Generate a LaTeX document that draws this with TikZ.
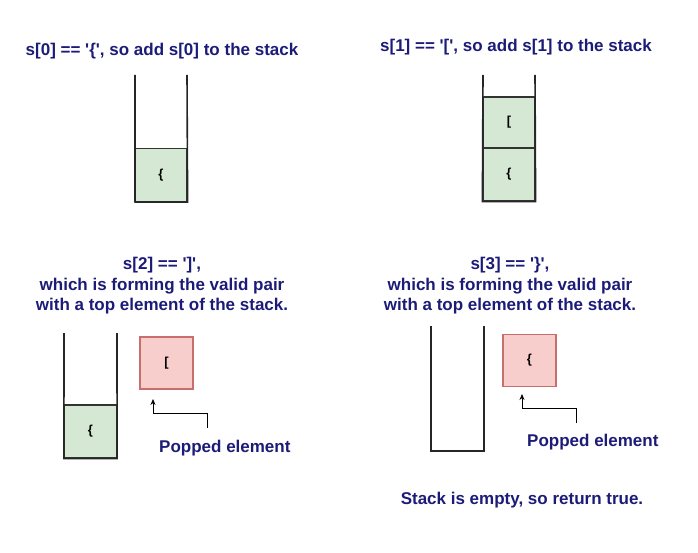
\documentclass[tikz,border=0pt]{standalone}
\usepackage{fontspec}
\setmainfont{Liberation Sans}[Ligatures=TeXOff]
\usetikzlibrary{arrows.meta}
\definecolor{navy}{RGB}{28,28,120}
\definecolor{gfill}{RGB}{213,232,212}
\definecolor{rfill}{RGB}{248,206,204}
\definecolor{rdraw}{RGB}{200,110,108}
\begin{document}
\begin{tikzpicture}[x=1pt,y=-1pt,
  ttl/.style={font=\bfseries\fontsize{17}{20.5}\selectfont, text=navy, align=center, inner sep=0pt},
  lbl/.style={font=\bfseries\fontsize{17}{20}\selectfont, text=navy, inner sep=0pt},
  cell/.style={draw=black!80, fill=gfill, line width=1.2pt, minimum width=52pt, minimum height=53pt, inner sep=0pt, font=\bfseries\fontsize{13}{15}\selectfont},
  pop/.style={draw=rdraw, fill=rfill, line width=1.2pt, minimum width=53pt, minimum height=52pt, inner sep=0pt, font=\bfseries\fontsize{13}{15}\selectfont},
  wall/.style={draw=black!85, line width=1.6pt},
  ptr/.style={draw=black, line width=0.7pt, -{Stealth[length=6pt,width=5pt]}}]
\useasboundingbox (0,0) rectangle (698,553);
% Panel 1
\node[ttl] (t1) at (162,51) {s[0] == '\{', so add s[0] to the stack};
\node[cell] (c1a) at (161,175) {\{};
\coordinate (w1l) at (135,75);
\coordinate (w1r) at (187,75);
\draw[wall] (w1l) |- (c1a.south west) -- (c1a.south east) -- (w1r);
% Panel 2
\node[ttl] (t2) at (516,47) {s[1] == '[', so add s[1] to the stack};
\node[cell] (c2a) at (509,174.5) {\{};
\node[cell, minimum height=51pt] (c2b) at (509,122.5) {[};
\coordinate (w2l) at (483,75);
\coordinate (w2r) at (535,75);
\draw[wall] (w2l) -- (c2a.south west) -- (c2a.south east) -- (w2r);
% Panel 3
\node[ttl] (t3) at (162,286) {s[2] == ']',\\ which is forming the valid pair\\ with a top element of the stack.};
\node[cell] (c3a) at (90.5,431.5) {\{};
\coordinate (w3l) at (64,333);
\coordinate (w3r) at (117,333);
\draw[wall] (w3l) -- (c3a.south west) -- (c3a.south east) -- (w3r);
\node[pop] (p3) at (166.5,363) {[};
\node[lbl, anchor=west] (l3) at (159,448) {Popped element};
\coordinate (k3) at (207,428);
\draw[ptr] (k3) -- (207,413) -| (153,399);
% Panel 4
\node[ttl] (t4) at (510,286) {s[3] == '\}',\\ which is forming the valid pair\\ with a top element of the stack.};
\coordinate (w4l) at (431,326);
\coordinate (w4r) at (484,326);
\coordinate (b4l) at (431,451);
\coordinate (b4r) at (484,451);
\draw[wall] (w4l) -- (b4l) -- (b4r) -- (w4r);
\node[pop] (p4) at (529.5,360.5) {\{};
\node[lbl, anchor=west] (l4) at (527,442) {Popped element};
\coordinate (k4) at (576,423);
\draw[ptr] (k4) -- (576,408) -| (522,394);
\node[lbl] (e4) at (522,500) {Stack is empty, so return true.};
\end{tikzpicture}
\end{document}
